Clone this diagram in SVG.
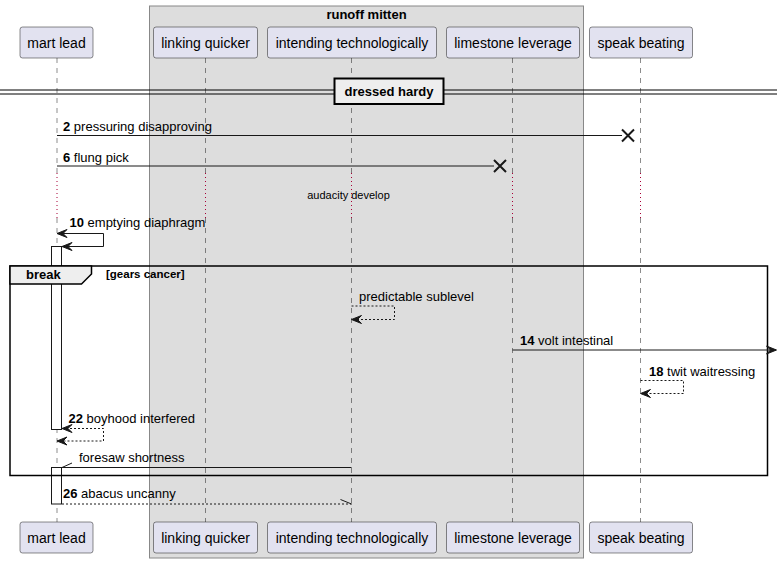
<svg xmlns="http://www.w3.org/2000/svg" width="783" height="563" viewBox="0 0 783 563">
<style>
text{font-family:"Liberation Sans",Arial,sans-serif;fill:#000}
.pt{font-size:14px}
.m{font-size:13px}
.b{font-weight:bold}
.part{fill:#E2E2F0;stroke:#181818;stroke-width:0.5}
.ll{stroke:#181818;stroke-width:0.5;stroke-dasharray:5,5;fill:none}
.dl{stroke:#A80036;stroke-width:1;stroke-dasharray:1,3;fill:none}
.ln{stroke:#181818;stroke-width:1;fill:none}
.dash{stroke:#181818;stroke-width:1;stroke-dasharray:2,2;fill:none}
.ah{fill:#181818;stroke:#181818;stroke-width:1}
.act{fill:#FFFFFF;stroke:#181818;stroke-width:1}
.x{stroke:#181818;stroke-width:2}
</style>
<g id="box-runoff-mitten">
<rect x="149.5" y="6" width="434" height="552" fill="#DDDDDD" stroke="#888888" stroke-width="1"/>
<text x="366.5" y="19" class="m b" text-anchor="middle">runoff mitten</text>
</g>
<g id="lifelines">
<path class="ll" d="M57,58V173M57,218V522M205.5,58V173M205.5,218V522M351.5,58V173M351.5,218V522M512.5,58V173M512.5,218V522M640.5,58V173M640.5,218V522"/>
<path class="dl" d="M57,173V218M205.5,173V218M351.5,173V218M512.5,173V218M640.5,173V218"/>
</g>
<g id="activations">
<rect class="act" x="51.5" y="246.5" width="10" height="183"/>
<rect class="act" x="51.5" y="467.5" width="10" height="36.5"/>
</g>
<g id="p-mart-lead">
<rect class="part" x="20" y="27" width="73" height="31" rx="2.5"/>
<text x="56.5" y="48" class="pt" text-anchor="middle">mart lead</text>
<rect class="part" x="20" y="522" width="73" height="31" rx="2.5"/>
<text x="56.5" y="543" class="pt" text-anchor="middle">mart lead</text>
</g>
<g id="p-linking-quicker">
<rect class="part" x="153.5" y="27" width="104" height="31" rx="2.5"/>
<text x="205.5" y="48" class="pt" text-anchor="middle">linking quicker</text>
<rect class="part" x="153.5" y="522" width="104" height="31" rx="2.5"/>
<text x="205.5" y="543" class="pt" text-anchor="middle">linking quicker</text>
</g>
<g id="p-intending-technologically">
<rect class="part" x="267.5" y="27" width="169" height="31" rx="2.5"/>
<text x="352" y="48" class="pt" text-anchor="middle">intending technologically</text>
<rect class="part" x="267.5" y="522" width="169" height="31" rx="2.5"/>
<text x="352" y="543" class="pt" text-anchor="middle">intending technologically</text>
</g>
<g id="p-limestone-leverage">
<rect class="part" x="446.5" y="27" width="133" height="31" rx="2.5"/>
<text x="513" y="48" class="pt" text-anchor="middle">limestone leverage</text>
<rect class="part" x="446.5" y="522" width="133" height="31" rx="2.5"/>
<text x="513" y="543" class="pt" text-anchor="middle">limestone leverage</text>
</g>
<g id="p-speak-beating">
<rect class="part" x="589.5" y="27" width="103" height="31" rx="2.5"/>
<text x="641" y="48" class="pt" text-anchor="middle">speak beating</text>
<rect class="part" x="589.5" y="522" width="103" height="31" rx="2.5"/>
<text x="641" y="543" class="pt" text-anchor="middle">speak beating</text>
</g>
<g id="divider">
<path d="M0,90H777M0,94H777" stroke="#000" stroke-width="1"/>
<rect x="334.5" y="78.5" width="109" height="25.5" fill="#EEEEEE" stroke="#000" stroke-width="2"/>
<text x="389" y="96" class="m b" text-anchor="middle">dressed hardy</text>
</g>
<g id="frame-break">
<rect x="10" y="266" width="757.5" height="209.5" fill="none" stroke="#000" stroke-width="1.5"/>
<polygon points="10,266 91.5,266 91.5,274 81.5,284 10,284" fill="#EEEEEE" stroke="#000" stroke-width="1.5"/>
<text x="26" y="279" class="m b">break</text>
<text x="106" y="278" class="b" font-size="11.5">[gears cancer]</text>
</g>
<g id="connectors">
<path class="ln" d="M57,135.5H622"/>
<path class="x" d="M622,129.5L634,141.5M622,141.5L634,129.5"/>
<text x="63" y="131" class="m"><tspan class="b">2</tspan> pressuring disapproving</text>
<path class="ln" d="M57,166H494"/>
<path class="x" d="M494,160L506,172M494,172L506,160"/>
<text x="63" y="162" class="m"><tspan class="b">6</tspan> flung pick</text>
<text x="348.5" y="199" font-size="11" text-anchor="middle">audacity develop</text>
<path class="ln" d="M57,233.5H103.5V246.5H62"/>
<polygon class="ah" points="57,233.5 67,229.5 63,233.5 67,237.5"/>
<polygon class="ah" points="62,246.5 72,242.5 68,246.5 72,250.5"/>
<text x="69.5" y="227" class="m"><tspan class="b">10</tspan> emptying diaphragm</text>
<path class="dash" d="M351.5,306H394.5V319.5H351.5"/>
<polygon class="ah" points="351.5,319.5 361.5,315.5 357.5,319.5 361.5,323.5"/>
<text x="359" y="301" class="m">predictable sublevel</text>
<path class="ln" d="M512.5,350H776"/>
<polygon class="ah" points="776.5,350 766.5,346 770.5,350 766.5,354"/>
<text x="520" y="345" class="m"><tspan class="b">14</tspan> volt intestinal</text>
<path class="dash" d="M640.5,380.5H683.5V393.5H640.5"/>
<polygon class="ah" points="640.5,393.5 650.5,389.5 646.5,393.5 650.5,397.5"/>
<text x="649" y="376" class="m"><tspan class="b">18</tspan> twit waitressing</text>
<path class="dash" d="M62,428.5H103.5V441H57"/>
<polygon class="ah" points="62,428.5 72,424.5 68,428.5 72,432.5"/>
<polygon class="ah" points="57,441 67,437 63,441 67,445"/>
<text x="68.5" y="423" class="m"><tspan class="b">22</tspan> boyhood interfered</text>
<path class="ln" d="M351.5,467.5H62L72,463"/>
<text x="79" y="462" class="m">foresaw shortness</text>
<path class="dash" d="M62,504H351.5"/>
<path class="ln" d="M351.5,504L340.5,499.5"/>
<text x="63" y="498" class="m"><tspan class="b">26</tspan> abacus uncanny</text>
</g>
</svg>
